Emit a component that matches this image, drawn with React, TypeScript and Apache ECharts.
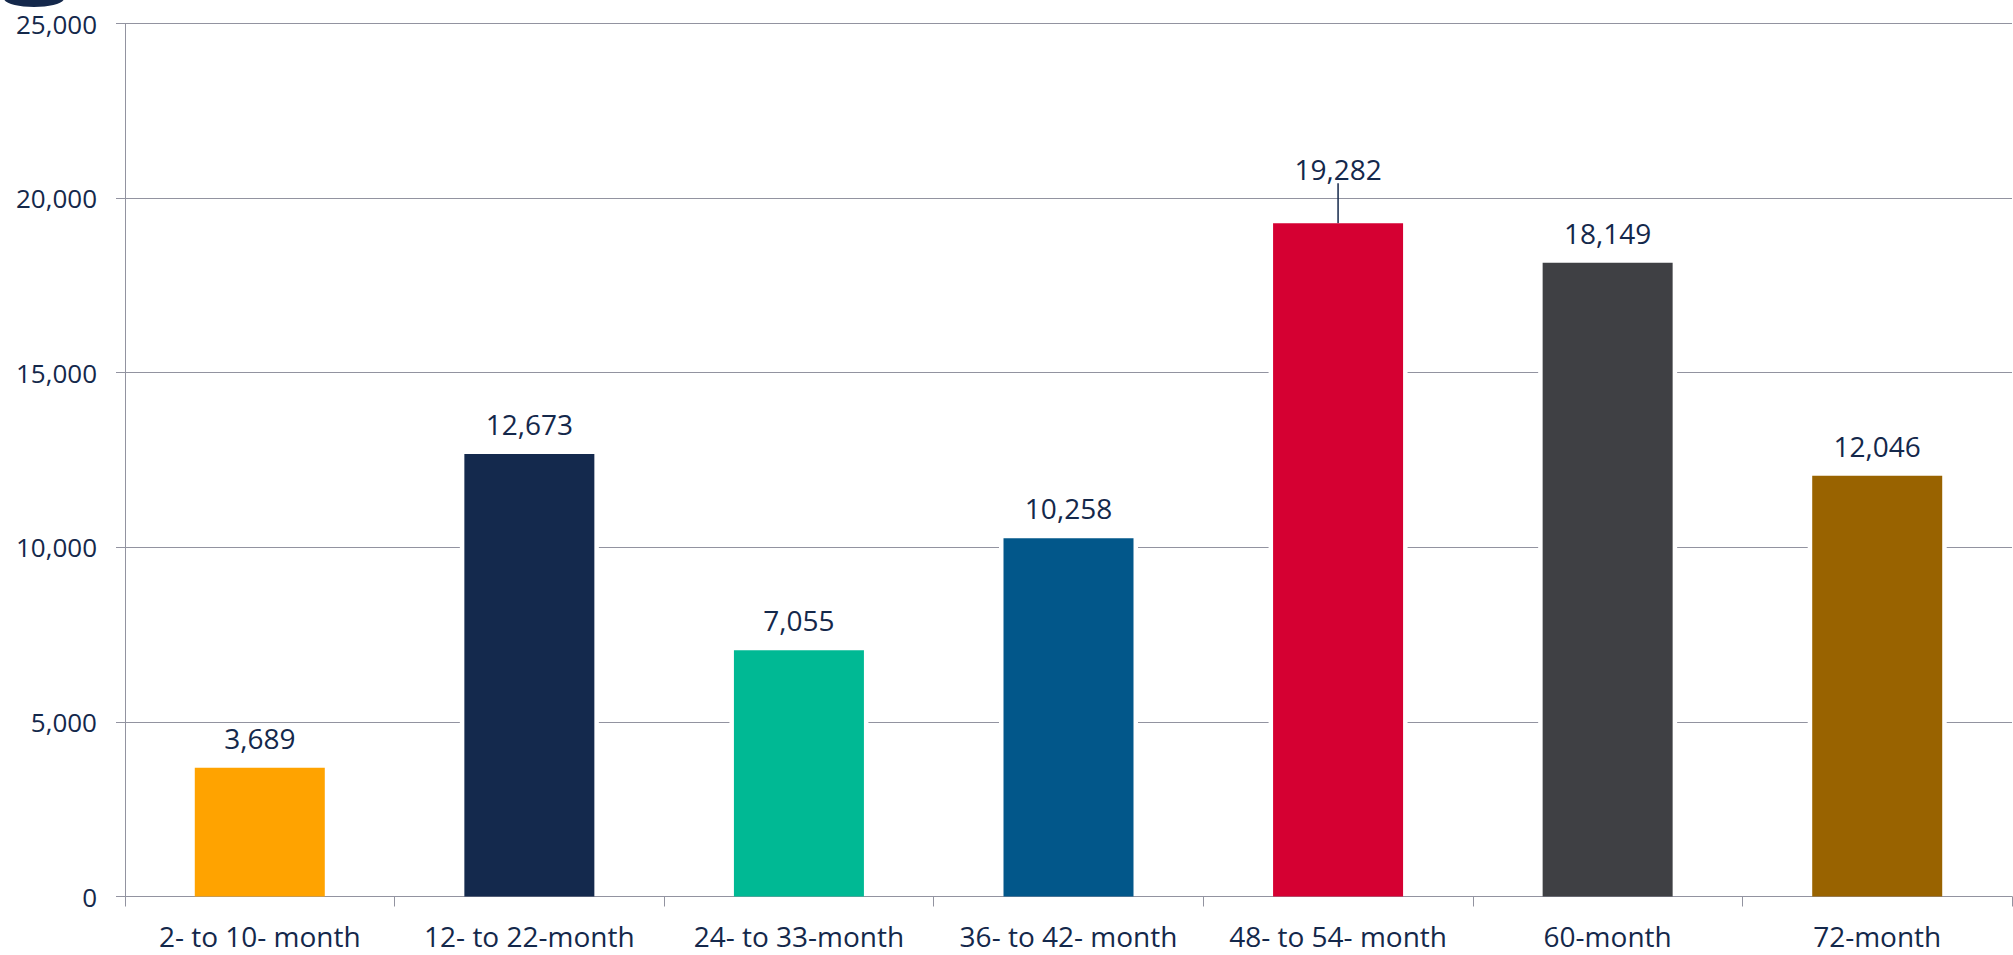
import React, { useEffect, useRef } from "react";
import * as echarts from "echarts";

const categories = [
  "2- to 10- month",
  "12- to 22-month",
  "24- to 33-month",
  "36- to 42- month",
  "48- to 54- month",
  "60-month",
  "72-month",
];
const values = [3689, 12673, 7055, 10258, 19282, 18149, 12046];
const barColors = ["#FFA300", "#14294D", "#00B994", "#02578A", "#D50032", "#3F4044", "#996300"];
const yTicks = [0, 5000, 10000, 15000, 20000, 25000];

const TEXT = "#14284B";
const GRID = "#9293a0";
const FONT = "Open Sans";
const BAR_W = 130;

export default function App() {
  const ref = useRef<HTMLDivElement>(null);
  useEffect(() => {
    if (!ref.current) return;
    const chart = echarts.init(ref.current, null, { renderer: "svg" });
    const fmt = (v: number) => v.toLocaleString("en-US");
    chart.setOption({
      animation: false,
      textStyle: { fontFamily: FONT },
      grid: { left: 125, right: 1, top: 23.5, bottom: 58.5, containLabel: false },
      graphic: [
        {
          type: "ellipse",
          shape: { cx: 34, cy: -1.5, rx: 30, ry: 8.5 },
          style: { fill: TEXT },
        },
      ],
      xAxis: {
        type: "category",
        data: categories,
        boundaryGap: true,
        axisLine: { show: true, lineStyle: { color: GRID, width: 1 } },
        axisTick: { show: true, length: 10, lineStyle: { color: GRID, width: 1 } },
        axisLabel: { color: TEXT, fontSize: 28, fontFamily: FONT, margin: 25, interval: 0 },
      },
      yAxis: {
        type: "value",
        min: yTicks[0],
        max: yTicks[yTicks.length - 1],
        interval: 5000,
        axisLine: { show: true, lineStyle: { color: GRID, width: 1 } },
        axisTick: { show: true, length: 9, lineStyle: { color: GRID, width: 1 } },
        splitLine: { show: true, lineStyle: { color: GRID, width: 1 } },
        axisLabel: {
          color: TEXT,
          fontSize: 26,
          fontFamily: FONT,
          margin: 28,
          formatter: (v: number) => fmt(v),
        },
      },
      series: [
        {
          type: "custom",
          z: 1,
          silent: true,
          data: values.map((v, i) => [i, v]),
          encode: { x: 0, y: 1 },
          renderItem: (params: any, api: any) => {
            const top = api.coord([api.value(0), api.value(1)]);
            const base = api.coord([api.value(0), 0]);
            return {
              type: "rect",
              shape: {
                x: top[0] - BAR_W / 2 - 4.5,
                y: top[1] - 4,
                width: BAR_W + 9,
                height: base[1] - top[1] + 3,
              },
              style: { fill: "#ffffff" },
            };
          },
        },
        {
          type: "bar",
          z: 2,
          barWidth: BAR_W,
          data: values.map((v, i) => ({
            value: v,
            itemStyle: { color: barColors[i] },
            labelLine:
              i === 4
                ? { show: true, lineStyle: { color: TEXT, width: 1.5 } }
                : { show: false },
          })),
          label: {
            show: true,
            position: "top",
            distance: 16,
            color: TEXT,
            fontSize: 28,
            fontFamily: FONT,
            formatter: (p: any) => fmt(p.value),
          },
          labelLayout: (p: any) => (p.dataIndex === 4 ? { dy: -24 } : {}),
        },
      ],
    });
    return () => chart.dispose();
  }, []);
  return (
    <div
      ref={ref}
      style={{ position: "absolute", left: 0, top: 0, width: "2013px", height: "955px" }}
    />
  );
}
